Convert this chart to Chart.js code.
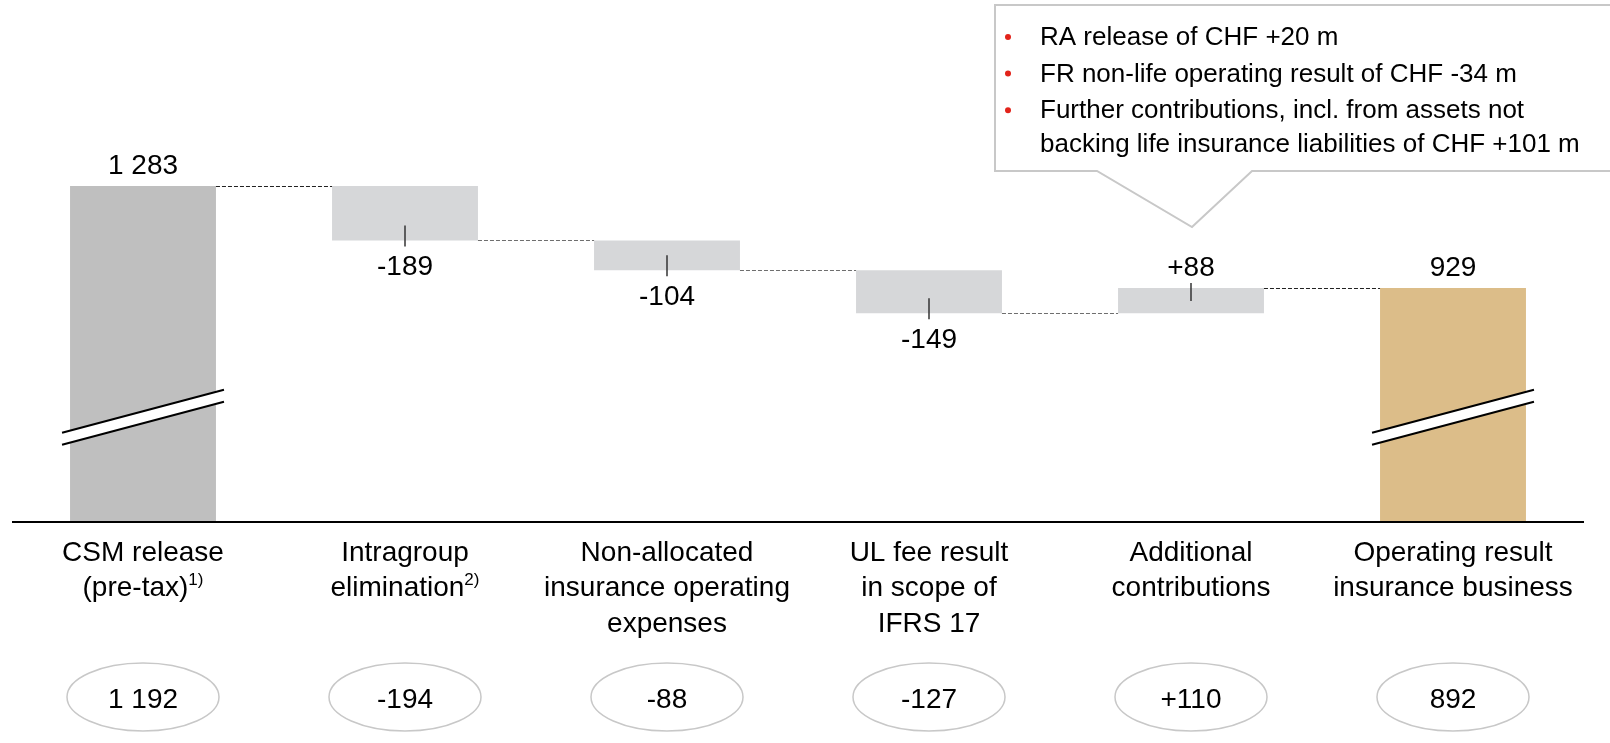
<!DOCTYPE html>
<html>
<head>
<meta charset="utf-8">
<script src="https://cdn.jsdelivr.net/npm/chart.js@4/dist/chart.umd.min.js"></script>
<style>
    body { margin: 0; background: #ffffff; }
    #wrap { width: 1610px; height: 743px; }
</style>
</head>
<body>
<div id="wrap"><canvas id="waterfall-chart" width="1610" height="743"></canvas></div>
<script>
// Chart data
const categories = [
    ['CSM release', '(pre-tax)'],
    ['Intragroup', 'elimination'],
    ['Non-allocated', 'insurance operating', 'expenses'],
    ['UL fee result', 'in scope of', 'IFRS 17'],
    ['Additional', 'contributions'],
    ['Operating result', 'insurance business']
];
const footnotes = ['1)', '2)', '', '', '', ''];
const startValue = 1283;
const changes = [-189, -104, -149, 88];
const endValue = 929;
const priorYear = [1192, -194, -88, -127, 110, 892];
const calloutLines = [
    ['RA release of CHF +20 m'],
    ['FR non-life operating result of CHF -34 m'],
    ['Further contributions, incl. from assets not', 'backing life insurance liabilities of CHF +101 m']
];

const axisMin = 120;
const axisMax = 1800;
const breakValue = 480;

const FONT = '"Liberation Sans", Arial, sans-serif';
const totalColor = '#bfbfbf';
const changeColor = '#d6d7d9';
const endColor = '#dcbd89';

// Build floating bars
const barData = [[axisMin, startValue]];
const barColors = [totalColor];
let running = startValue;
changes.forEach(c => {
    barData.push([running, running + c]);
    barColors.push(changeColor);
    running += c;
});
barData.push([axisMin, endValue]);
barColors.push(endColor);

function fmt(v, signed) {
    const s = Math.abs(v).toString().replace(/\B(?=(\d{3})+(?!\d))/g, ' ');
    if (v < 0) return '-' + s;
    return (signed ? '+' : '') + s;
}

const decorPlugin = {
    id: 'decor',
    afterDatasetsDraw(chart) {
        const ctx = chart.ctx;
        const bars = chart.getDatasetMeta(0).data;
        const yScale = chart.scales.y;
        const area = chart.chartArea;
        const n = bars.length;

        ctx.save();

        // Connectors between bars (dark next to totals, grey in between)
        ctx.lineWidth = 1.2;
        ctx.setLineDash([4, 2]);
        for (let i = 0; i < n - 1; i++) {
            const level = barData[i][1];
            const y = Math.round(yScale.getPixelForValue(level)) + 0.5;
            ctx.strokeStyle = (i === 0 || i === n - 2) ? '#222222' : '#6e6e6e';
            ctx.beginPath();
            ctx.moveTo(bars[i].x + bars[i].width / 2, y);
            ctx.lineTo(bars[i + 1].x - bars[i + 1].width / 2, y);
            ctx.stroke();
        }
        ctx.setLineDash([]);

        // Axis break marks on total bars
        [0, n - 1].forEach(i => {
            const b = bars[i];
            const cy = yScale.getPixelForValue(breakValue);
            const x1 = b.x - b.width / 2 - 8;
            const x2 = b.x + b.width / 2 + 8;
            const rise = 21.5;
            ctx.fillStyle = '#ffffff';
            ctx.beginPath();
            ctx.moveTo(x1, cy - 6 + rise);
            ctx.lineTo(x2, cy - 6 - rise);
            ctx.lineTo(x2, cy + 6 - rise);
            ctx.lineTo(x1, cy + 6 + rise);
            ctx.closePath();
            ctx.fill();
            ctx.strokeStyle = '#000000';
            ctx.lineWidth = 2;
            ctx.beginPath();
            ctx.moveTo(x1, cy - 6 + rise);
            ctx.lineTo(x2, cy - 6 - rise);
            ctx.moveTo(x1, cy + 6 + rise);
            ctx.lineTo(x2, cy + 6 - rise);
            ctx.stroke();
        });

        // Value labels and tick marks
        ctx.font = '28px ' + FONT;
        ctx.fillStyle = '#000000';
        ctx.textAlign = 'center';
        ctx.textBaseline = 'alphabetic';
        bars.forEach((b, i) => {
            const top = Math.min(b.y, b.base);
            const bottom = Math.max(b.y, b.base);
            if (i === 0 || i === n - 1) {
                ctx.fillText(fmt(barData[i][1], false), b.x, top - 12);
                return;
            }
            const delta = changes[i - 1];
            ctx.strokeStyle = '#333333';
            ctx.lineWidth = 1.5;
            ctx.beginPath();
            if (delta < 0) {
                ctx.moveTo(b.x, bottom - 15);
                ctx.lineTo(b.x, bottom + 6);
                ctx.stroke();
                ctx.fillText(fmt(delta, true), b.x, bottom + 35);
            } else {
                ctx.moveTo(b.x, top - 5);
                ctx.lineTo(b.x, top + 13);
                ctx.stroke();
                ctx.fillText(fmt(delta, true), b.x, top - 12);
            }
        });

        // Base line
        ctx.strokeStyle = '#000000';
        ctx.lineWidth = 2;
        ctx.beginPath();
        ctx.moveTo(area.left, area.bottom + 1);
        ctx.lineTo(area.right, area.bottom + 1);
        ctx.stroke();

        // Category labels with footnote marks
        const lineGap = 35.3;
        categories.forEach((lines, i) => {
            const x = bars[i].x;
            lines.forEach((line, j) => {
                const y = area.bottom + 40 + j * lineGap;
                const note = (j === lines.length - 1) ? footnotes[i] : '';
                ctx.font = '28px ' + FONT;
                const w = ctx.measureText(line).width;
                ctx.font = '17px ' + FONT;
                const nw = note ? ctx.measureText(note).width : 0;
                const left = x - (w + nw) / 2;
                ctx.textAlign = 'left';
                ctx.font = '28px ' + FONT;
                ctx.fillText(line, left, y);
                if (note) {
                    ctx.font = '17px ' + FONT;
                    ctx.fillText(note, left + w, y - 11);
                }
            });
        });

        // Prior year ovals
        ctx.textAlign = 'center';
        bars.forEach((b, i) => {
            const cy = 697;
            ctx.strokeStyle = '#c8c8c8';
            ctx.lineWidth = 1.5;
            ctx.beginPath();
            ctx.ellipse(b.x, cy, 76, 34, 0, 0, Math.PI * 2);
            ctx.stroke();
            ctx.font = '28px ' + FONT;
            ctx.fillStyle = '#000000';
            const signed = i > 0 && i < n - 1;
            ctx.fillText(fmt(priorYear[i], signed), b.x, cy + 11);
        });

        // Callout box pointing at the additional contributions bar
        const ax = bars[4].x + 1;
        const boxL = ax - 197;
        const boxT = 5;
        const boxB = 171;
        ctx.fillStyle = '#ffffff';
        ctx.strokeStyle = '#c8c8c8';
        ctx.lineWidth = 2;
        ctx.beginPath();
        ctx.moveTo(boxL, boxT);
        ctx.lineTo(chart.width + 5, boxT);
        ctx.lineTo(chart.width + 5, boxB);
        ctx.lineTo(ax + 60, boxB);
        ctx.lineTo(ax, 227);
        ctx.lineTo(ax - 95, boxB);
        ctx.lineTo(boxL, boxB);
        ctx.closePath();
        ctx.fill();
        ctx.stroke();

        ctx.textAlign = 'left';
        ctx.font = '26px ' + FONT;
        let y = 45;
        calloutLines.forEach(item => {
            ctx.fillStyle = '#e2231a';
            ctx.beginPath();
            ctx.arc(boxL + 13, y - 8, 3, 0, Math.PI * 2);
            ctx.fill();
            ctx.fillStyle = '#000000';
            item.forEach((t, k) => {
                ctx.fillText(t, boxL + 45, y);
                y += (k < item.length - 1) ? 33.4 : 36.6;
            });
        });

        ctx.restore();
    }
};

const ctx = document.getElementById('waterfall-chart');
new Chart(ctx, {
    type: 'bar',
    data: {
        labels: categories.map(c => c.join(' ')),
        datasets: [{
            data: barData,
            backgroundColor: barColors,
            borderWidth: 0,
            barPercentage: 0.557,
            categoryPercentage: 1
        }]
    },
    options: {
        responsive: false,
        animation: false,
        layout: {
            padding: { top: 37, bottom: 222, left: 12, right: 26 }
        },
        plugins: {
            legend: { display: false },
            tooltip: { enabled: false }
        },
        scales: {
            x: { display: false, grid: { display: false } },
            y: { display: false, min: axisMin, max: axisMax, grid: { display: false } }
        }
    },
    plugins: [decorPlugin]
});
</script>
</body>
</html>
